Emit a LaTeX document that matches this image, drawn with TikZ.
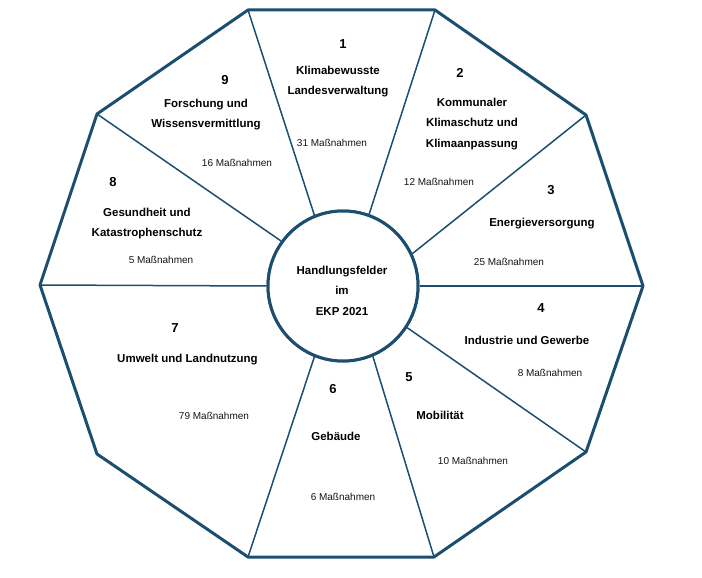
\documentclass[tikz,border=0pt]{standalone}
\usepackage{fontspec}
\setmainfont{Liberation Sans}
\definecolor{frame}{RGB}{28,78,112}
\definecolor{txt}{RGB}{20,20,20}
\begin{document}
\begin{tikzpicture}[x=1pt,y=-1pt,
  outer/.style={draw=frame,line width=3pt,line join=round},
  radial/.style={draw=frame,line width=1.5pt},
  hub/.style={circle,draw=frame,line width=3pt,minimum size=150pt,inner sep=0pt,fill=white},
  num/.style={font=\bfseries\fontsize{13}{15}\selectfont,inner sep=0pt,text=black},
  lbl/.style={font=\bfseries\fontsize{11.5}{20.5}\selectfont,inner sep=0pt,align=center,text=black},
  mass/.style={font=\fontsize{10}{12}\selectfont,inner sep=0pt,text=txt}]
\useasboundingbox (0,0) rectangle (702,578);
% decagon vertices
\coordinate (v0) at (643,286);
\coordinate (v1) at (586,115);
\coordinate (v2) at (435,10);
\coordinate (v3) at (248,10);
\coordinate (v4) at (97,114);
\coordinate (v5) at (40,285);
\coordinate (v6) at (97,454);
\coordinate (v7) at (248,557);
\coordinate (v8) at (434,557);
\coordinate (v9) at (586,452);
\node[hub] (c) at (343,286) {};
% radial lines
\draw[radial] (v3) -- (c.112);
\draw[radial] (v2) -- (c.70);
\draw[radial] (v1) -- (c.25);
\draw[radial] (v0) -- (c.0);
\draw[radial] (v9) -- (c.-33);
\draw[radial] (v8) -- (c.-67);
\draw[radial] (v7) -- (c.-112);
\draw[radial] (v5) -- (c.180);
\draw[radial] (v4) -- (c.144);
\node[hub] (c2) at (343,286) {};
\draw[outer] (v0) -- (v1) -- (v2) -- (v3) -- (v4) -- (v5) -- (v6) -- (v7) -- (v8) -- (v9) -- cycle;
% centre text
\node[lbl] (ct) at (342,290.5) {Handlungsfelder\\im\\EKP 2021};
% 1
\node[num] (n1) at (343,44) {1};
\node[lbl] (l1) at (338,81.5) {Klimabewusste\\Landesverwaltung};
\node[mass] (m1) at (332,143) {31 Maßnahmen};
% 2
\node[num] (n2) at (460,73) {2};
\node[lbl] (l2) at (472,124) {Kommunaler\\Klimaschutz und\\Klimaanpassung};
\node[mass] (m2) at (439,182) {12 Maßnahmen};
% 3
\node[num] (n3) at (551,190) {3};
\node[lbl] (l3) at (542,224) {Energieversorgung};
\node[mass] (m3) at (509,262) {25 Maßnahmen};
% 4
\node[num] (n4) at (541,308) {4};
\node[lbl] (l4) at (527,340) {Industrie und Gewerbe};
\node[mass] (m4) at (550,373) {8 Maßnahmen};
% 5
\node[num] (n5) at (409,377) {5};
\node[lbl] (l5) at (440,415) {Mobilität};
\node[mass] (m5) at (473,461) {10 Maßnahmen};
% 6
\node[num] (n6) at (333,389) {6};
\node[lbl] (l6) at (336,436) {Gebäude};
\node[mass] (m6) at (343,497) {6 Maßnahmen};
% 7
\node[num] (n7) at (175,328) {7};
\node[lbl] (l7) at (187.5,360) {Umwelt und Landnutzung};
\node[mass] (m7) at (214,416) {79 Maßnahmen};
% 8
\node[num] (n8) at (113,182) {8};
\node[lbl] (l8) at (147,223.5) {Gesundheit und\\Katastrophenschutz};
\node[mass] (m8) at (161,260) {5 Maßnahmen};
% 9
\node[num] (n9) at (225,80) {9};
\node[lbl] (l9) at (206,114.5) {Forschung  und\\Wissensvermittlung};
\node[mass] (m9) at (237,163) {16 Maßnahmen};
\end{tikzpicture}
\end{document}
